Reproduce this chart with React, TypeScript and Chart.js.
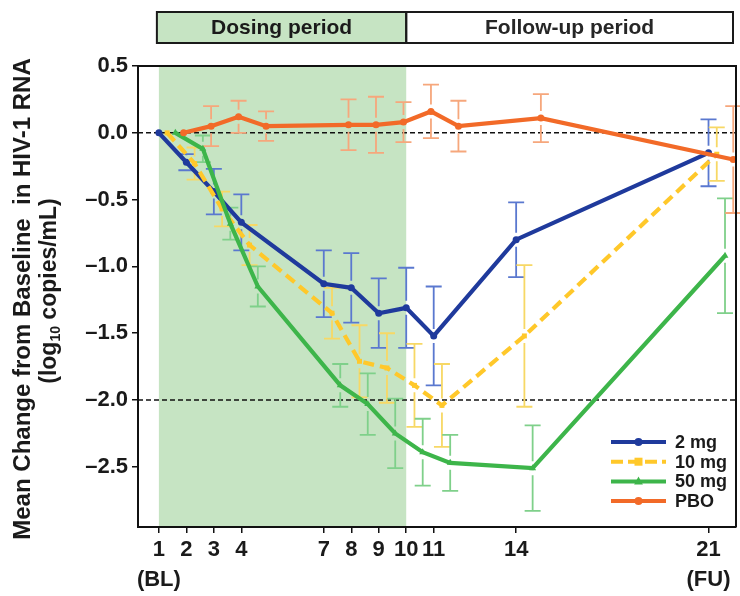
import React, { useEffect, useRef } from "react";
import { Chart, registerables } from "chart.js";
Chart.register(...registerables);

// ---------- data ----------
const days = [1, 2, 3, 4, 7, 8, 9, 10, 11, 14, 21];
const dayLabels = ["1", "2", "3", "4", "7", "8", "9", "10", "11", "14", "21"];
const dayLabels2 = ["(BL)", "", "", "", "", "", "", "", "", "", "(FU)"];
const yTicks = [0.5, 0, -0.5, -1, -1.5, -2, -2.5];
const seriesNames = ["2 mg", "10 mg", "50 mg", "PBO"];

const mean2mg = [0, -0.22, -0.44, -0.67, -1.13, -1.16, -1.35, -1.31, -1.52, -0.8, -0.15];
const se2mg = [0, 0.06, 0.17, 0.21, 0.25, 0.26, 0.26, 0.3, 0.37, 0.28, 0.25];
const mean10mg = [0, -0.23, -0.57, -0.84, -1.35, -1.71, -1.76, -1.89, -2.04, -1.52, -0.16];
const se10mg = [0, 0.12, 0.13, 0.15, 0.19, 0.27, 0.26, 0.31, 0.31, 0.53, 0.2];
const mean50mg = [0, -0.12, -0.68, -1.15, -1.89, -2.03, -2.25, -2.39, -2.47, -2.51, -0.92];
const se50mg = [0, 0.1, 0.12, 0.15, 0.16, 0.23, 0.26, 0.25, 0.21, 0.32, 0.43];
const meanPBO = [0, 0.05, 0.12, 0.05, 0.06, 0.06, 0.08, 0.16, 0.05, 0.11, -0.2];
const sePBO = [0, 0.15, 0.12, 0.11, 0.19, 0.21, 0.15, 0.2, 0.19, 0.18, 0.4];

const refLines = [0, -2];
const dosingStart = 1;
const dosingEnd = 10;
const headerLabels = ["Dosing period", "Follow-up period"];
const yTitle1 = "Mean Change from Baseline  in HIV-1 RNA";
const yTitle2a = "(log";
const yTitle2sub = "10";
const yTitle2b = " copies/mL)";

// ---------- styles ----------
const FONT = "'Liberation Sans', Arial, sans-serif";
const TEXT = "#1a1a1a";
const SHADE = "#c6e4c3";
const styles = [
  { line: "#1f3a9c", bar: "#5a78cf", dash: [] as number[], point: "circle", offset: 0, order: 4 },
  { line: "#ffc82a", bar: "#f7d865", dash: [11, 6], point: "rect", offset: 0.3, order: 3 },
  { line: "#3db54a", bar: "#7fd08a", dash: [] as number[], point: "triangle", offset: 0.6, order: 2 },
  { line: "#f26a28", bar: "#f6a77c", dash: [] as number[], point: "circle", offset: 0.9, order: 1 },
];
const means = [mean2mg, mean10mg, mean50mg, meanPBO];
const ses = [se2mg, se10mg, se50mg, sePBO];

const drawMarker = (ctx: CanvasRenderingContext2D, kind: string, x: number, y: number, r: number, color: string) => {
  ctx.save();
  ctx.fillStyle = color;
  ctx.setLineDash([]);
  ctx.beginPath();
  if (kind === "circle") ctx.arc(x, y, r, 0, Math.PI * 2);
  else if (kind === "rect") ctx.rect(x - r, y - r, 2 * r, 2 * r);
  else {
    ctx.moveTo(x, y - r * 1.2);
    ctx.lineTo(x + r * 1.1, y + r * 0.8);
    ctx.lineTo(x - r * 1.1, y + r * 0.8);
    ctx.closePath();
  }
  ctx.fill();
  ctx.restore();
};

const decorPlugin = {
  id: "decor",
  beforeDraw(chart: any) {
    const { ctx, chartArea, scales } = chart;
    const xs = scales.x;
    const x1 = xs.getPixelForValue(dosingStart);
    const x2 = xs.getPixelForValue(dosingEnd);
    ctx.save();
    ctx.fillStyle = SHADE;
    ctx.fillRect(x1, chartArea.top, x2 - x1, chartArea.bottom - chartArea.top);
    // header boxes
    const hTop = 12;
    const hBot = 43;
    const hl = x1 - 2;
    const hr = chartArea.right - 3;
    ctx.fillStyle = SHADE;
    ctx.fillRect(hl, hTop, x2 - hl, hBot - hTop);
    ctx.strokeStyle = "#1a1a1a";
    ctx.lineWidth = 2;
    ctx.strokeRect(hl, hTop, x2 - hl, hBot - hTop);
    ctx.strokeRect(x2, hTop, hr - x2, hBot - hTop);
    ctx.fillStyle = TEXT;
    ctx.textAlign = "center";
    ctx.textBaseline = "middle";
    ctx.font = `bold 21px ${FONT}`;
    ctx.fillText(headerLabels[0], (hl + x2) / 2, (hTop + hBot) / 2 + 1);
    ctx.fillStyle = "#262626";
    ctx.fillText(headerLabels[1], (x2 + hr) / 2, (hTop + hBot) / 2 + 1);
    // y title
    const cy = 299;
    ctx.fillStyle = TEXT;
    ctx.save();
    ctx.translate(23, cy);
    ctx.rotate(-Math.PI / 2);
    ctx.font = `bold 24px ${FONT}`;
    ctx.textAlign = "center";
    ctx.fillText(yTitle1, 0, 0);
    ctx.restore();
    ctx.save();
    ctx.translate(50, cy - 8);
    ctx.rotate(-Math.PI / 2);
    ctx.textAlign = "left";
    ctx.font = `bold 23px ${FONT}`;
    const wa = ctx.measureText(yTitle2a).width;
    const wb = ctx.measureText(yTitle2b).width;
    ctx.font = `bold 14px ${FONT}`;
    const ws = ctx.measureText(yTitle2sub).width;
    const total = wa + ws + wb;
    let px = -total / 2;
    ctx.font = `bold 23px ${FONT}`;
    ctx.fillText(yTitle2a, px, 0);
    px += wa;
    ctx.font = `bold 14px ${FONT}`;
    ctx.fillText(yTitle2sub, px, 6);
    px += ws;
    ctx.font = `bold 23px ${FONT}`;
    ctx.fillText(yTitle2b, px, 0);
    ctx.restore();
    ctx.restore();
  },
  beforeDatasetsDraw(chart: any) {
    const { ctx, chartArea, scales } = chart;
    const xs = scales.x;
    const ys = scales.y;
    ctx.save();
    ctx.strokeStyle = "#111";
    ctx.lineWidth = 1.6;
    ctx.setLineDash([5, 3]);
    refLines.forEach((v) => {
      const y = ys.getPixelForValue(v);
      ctx.beginPath();
      ctx.moveTo(chartArea.left, y);
      ctx.lineTo(chartArea.right, y);
      ctx.stroke();
    });
    ctx.setLineDash([]);
    const gap = 7;
    const cap = 8;
    styles.forEach((st, s) => {
      ctx.strokeStyle = st.bar;
      ctx.lineWidth = 1.8;
      days.forEach((d, i) => {
        const se = ses[s][i];
        if (!se) return;
        const x = xs.getPixelForValue(d + st.offset);
        const y = ys.getPixelForValue(means[s][i]);
        const yt = ys.getPixelForValue(means[s][i] + se);
        const yb = ys.getPixelForValue(means[s][i] - se);
        ctx.beginPath();
        if (yt < y - gap) {
          ctx.moveTo(x, yt);
          ctx.lineTo(x, y - gap);
        }
        if (yb > y + gap) {
          ctx.moveTo(x, y + gap);
          ctx.lineTo(x, yb);
        }
        ctx.moveTo(x - cap, yt);
        ctx.lineTo(x + cap, yt);
        ctx.moveTo(x - cap, yb);
        ctx.lineTo(x + cap, yb);
        ctx.stroke();
      });
    });
    ctx.restore();
  },
  afterDraw(chart: any) {
    const { ctx, chartArea } = chart;
    ctx.save();
    ctx.strokeStyle = "#111";
    ctx.lineWidth = 2;
    ctx.beginPath();
    ctx.moveTo(chartArea.left, chartArea.top);
    ctx.lineTo(chartArea.right, chartArea.top);
    ctx.lineTo(chartArea.right, chartArea.bottom);
    ctx.stroke();
    // legend
    const lx0 = chartArea.right - 125;
    const lx1 = chartArea.right - 70;
    const tx = chartArea.right - 61;
    const y0 = chartArea.bottom - 85;
    ctx.font = `bold 18px ${FONT}`;
    ctx.textAlign = "left";
    ctx.textBaseline = "middle";
    styles.forEach((st, i) => {
      const y = y0 + i * 19.7;
      ctx.strokeStyle = st.line;
      ctx.lineWidth = 4;
      ctx.setLineDash(st.dash.length ? [12, 5] : []);
      ctx.beginPath();
      ctx.moveTo(lx0, y);
      ctx.lineTo(lx1, y);
      ctx.stroke();
      ctx.setLineDash([]);
      drawMarker(ctx, st.point, (lx0 + lx1) / 2, y, 4, st.line);
      ctx.fillStyle = TEXT;
      ctx.fillText(seriesNames[i], tx, y + 1);
    });
    ctx.restore();
  },
};

export default function App() {
  const ref = useRef<HTMLCanvasElement | null>(null);
  useEffect(() => {
    if (!ref.current) return;
    const datasets = styles.map((st, s) => ({
      label: seriesNames[s],
      data: days.map((d, i) => ({ x: d + st.offset, y: means[s][i] })),
      borderColor: st.line,
      backgroundColor: st.line,
      borderWidth: 4.2,
      borderDash: st.dash,
      pointStyle: st.point,
      pointRadius: st.point === "triangle" ? 4 : 3.5,
      pointBorderWidth: 0,
      pointBackgroundColor: st.line,
      tension: 0,
      order: st.order,
    }));
    const chart = new Chart(ref.current, {
      type: "line",
      data: { datasets },
      options: {
        responsive: false,
        animation: false,
        devicePixelRatio: 1,
        layout: { padding: { top: 66, right: 2, left: 0, bottom: 0 } },
        plugins: { legend: { display: false }, tooltip: { enabled: false } },
        scales: {
          x: {
            type: "linear",
            min: 0.24,
            max: 22.0,
            afterFit: (s: any) => {
              s.height = 69;
            },
            afterBuildTicks: (s: any) => {
              s.ticks = days.map((v) => ({ value: v }));
            },
            ticks: {
              autoSkip: false,
              maxRotation: 0,
              padding: 2,
              color: TEXT,
              font: { family: FONT, size: 22, weight: "bold", lineHeight: 1.35 },
              callback: (value: any) => {
                const i = days.indexOf(Number(value));
                if (i < 0) return "";
                return dayLabels2[i] ? [dayLabels[i], dayLabels2[i]] : dayLabels[i];
              },
            },
            grid: { display: true, drawOnChartArea: false, drawTicks: true, tickLength: 6, color: "#111", lineWidth: 1.5 },
            border: { display: true, color: "#111", width: 2 },
          },
          y: {
            type: "linear",
            min: -2.95,
            max: 0.5,
            afterFit: (s: any) => {
              s.width = 138;
            },
            afterBuildTicks: (s: any) => {
              s.ticks = yTicks.map((v) => ({ value: v }));
            },
            ticks: {
              padding: 4,
              color: TEXT,
              font: { family: FONT, size: 22, weight: "bold" },
              callback: (value: any) => {
                const v = Number(value);
                if (v === 0) return "0.0";
                return v < 0 ? "\u2013" + Math.abs(v).toFixed(1) : v.toFixed(1);
              },
            },
            grid: { display: true, drawOnChartArea: false, drawTicks: true, tickLength: 6, color: "#111", lineWidth: 1.5 },
            border: { display: true, color: "#111", width: 2 },
          },
        },
      },
      plugins: [decorPlugin],
    } as any);
    return () => chart.destroy();
  }, []);
  return (
    <div style={{ position: "absolute", left: 0, top: 0, width: 740, height: 596, background: "#fff" }}>
      <canvas ref={ref} width={740} height={596} style={{ display: "block" }} />
    </div>
  );
}
